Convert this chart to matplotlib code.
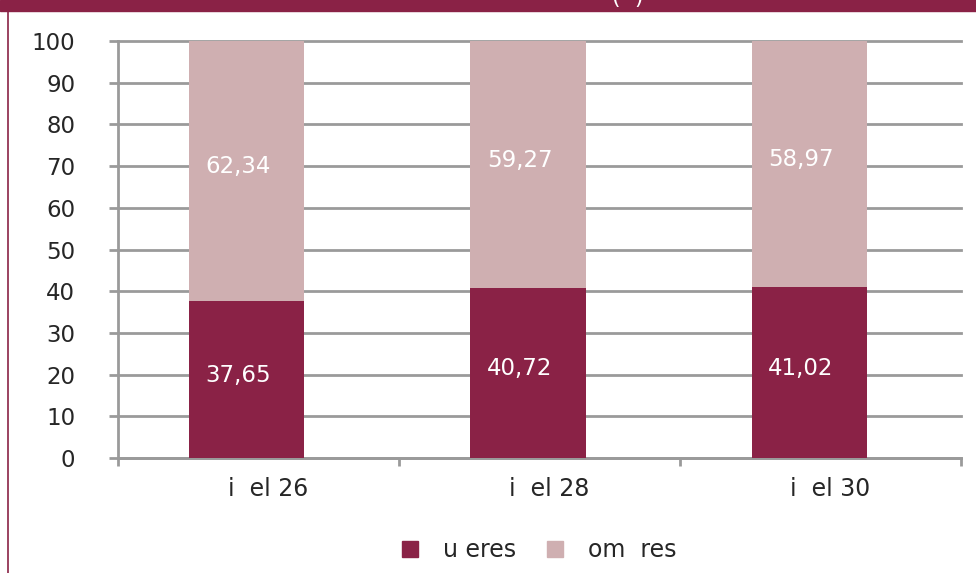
import matplotlib
matplotlib.use("Agg")
import matplotlib.pyplot as plt
from matplotlib.patches import Patch, Rectangle
from matplotlib.lines import Line2D
from matplotlib.transforms import ScaledTranslation

# data
categories = ["i  el 26", "i  el 28", "i  el 30"]
mujeres = [37.65, 40.72, 41.02]
hombres = [62.34, 59.27, 58.97]
series_names = ["u eres", "om  res"]

maroon = "#8A2246"
pink = "#CFAFB1"
grey = "#9A9A9A"
text_col = "#262626"

plt.rcParams["font.family"] = ["DejaVu Sans"]

fig = plt.figure(figsize=(9.76, 5.73), dpi=100)
ax = fig.add_axes([0.1204, 0.2007, 0.8642, 0.7277])

x = list(range(len(categories)))
w = 0.41
ax.bar(x, mujeres, width=w, color=maroon, zorder=3)
ax.bar(x, hombres, width=w, bottom=mujeres, color=pink, zorder=3)

# value labels inside the segments
for xi, m, h in zip(x, mujeres, hombres):
    for val, base in ((m, 0), (h, m)):
        ax.annotate(f"{val:.2f}".replace(".", ","), (xi, base + val / 2),
                    xytext=(-6, 3), textcoords="offset points",
                    ha="center", va="center", color="white", fontsize=16.5, zorder=4)

ax.set_xlim(-0.46, 2.54)
ax.set_ylim(0, 100)
ax.set_yticks(range(0, 101, 10))
ax.yaxis.grid(True, color=grey, lw=2)
ax.set_axisbelow(True)
for gl in ax.get_ygridlines():
    gl.set_clip_on(False)

for side in ("top", "right"):
    ax.spines[side].set_visible(False)
for side in ("left", "bottom"):
    ax.spines[side].set_color(grey)
    ax.spines[side].set_linewidth(2)

ax.tick_params(axis="y", length=6.5, width=2, color=grey, labelsize=16.5,
               labelcolor=text_col, pad=24)
ax.set_xticks(x)
ax.set_xticklabels(categories)
ax.set_xticks([k + 0.54 for k in range(-1, len(categories))], minor=True)
ax.tick_params(axis="x", which="major", length=0, labelsize=17,
               labelcolor=text_col, pad=14)
ax.tick_params(axis="x", which="minor", length=6, width=2, color=grey)
for lab in ax.get_xticklabels():
    lab.set_transform(lab.get_transform() + ScaledTranslation(0.21, 0, fig.dpi_scale_trans))

handles = [Patch(color=maroon), Patch(color=pink)]
ax.legend(handles, series_names, loc="center", bbox_to_anchor=(0.5, -0.221),
          ncol=2, frameon=False, fontsize=17, handlelength=0.68, handleheight=0.68,
          handletextpad=1.05, columnspacing=1.3, labelcolor=text_col)

# header band and left border of the original frame
fig.patches.append(Rectangle((0, 1 - 11 / 573), 1, 11 / 573, transform=fig.transFigure,
                             color=maroon, zorder=0))
fig.lines.append(Line2D([7.5 / 976, 7.5 / 976], [0, 1], transform=fig.transFigure,
                        color=maroon, lw=1.2))
fig.text(628 / 976, 1 + 2 / 573, "(  )", ha="center", va="center",
         color="white", fontsize=16)

fig.savefig("out.png", dpi=100)
